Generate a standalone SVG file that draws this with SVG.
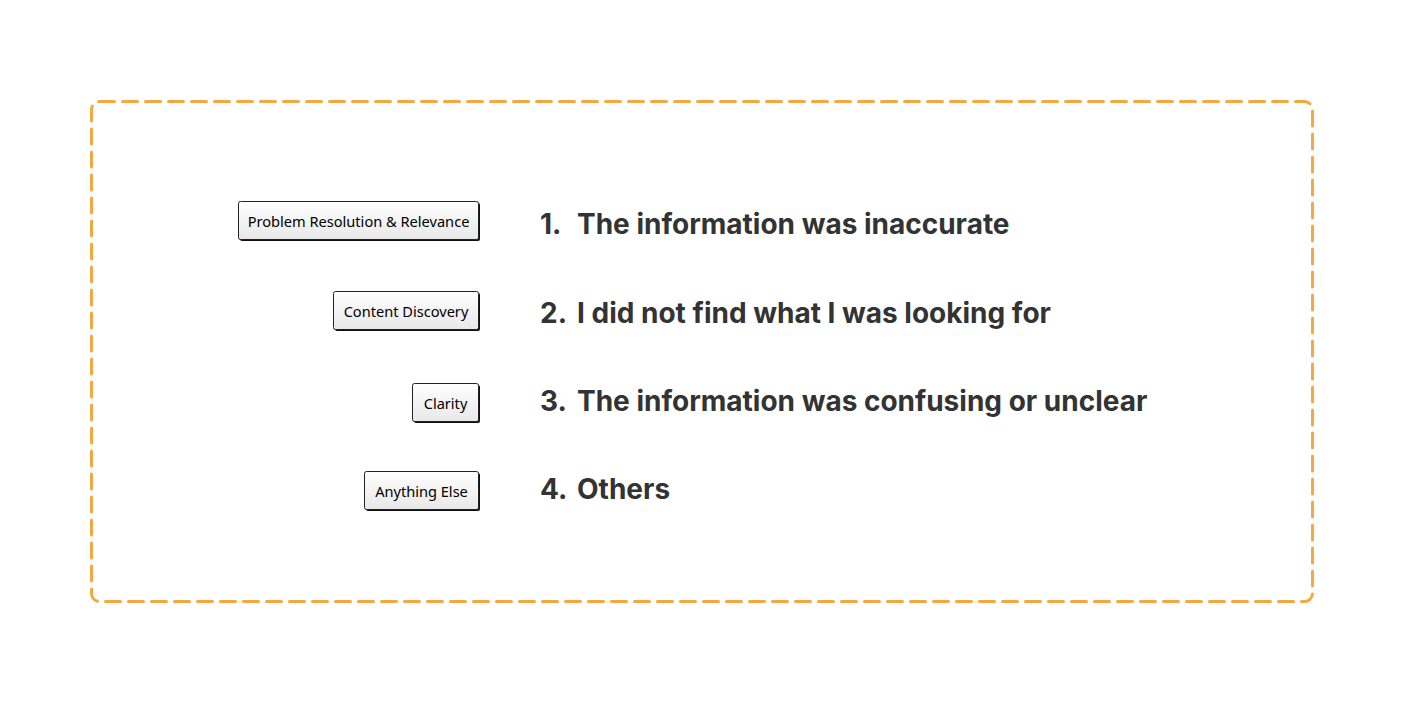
<svg xmlns="http://www.w3.org/2000/svg" width="1408" height="726" viewBox="0 0 1408 726">
<defs>
<linearGradient id="g" x1="0" y1="0" x2="0" y2="1">
<stop offset="0" stop-color="#ffffff"/>
<stop offset="1" stop-color="#e8e8e8"/>
</linearGradient>
</defs>
<style>
.frame{fill:none;stroke:#f5a83f;stroke-width:3;stroke-dasharray:15 8;stroke-linecap:round}
.shadow{fill:#111}
.box{fill:url(#g);stroke:#222;stroke-width:1}
.lbl{font-family:"Noto Sans","DejaVu Sans",sans-serif;font-size:14.6px;fill:#000;text-anchor:middle}
.item{font-family:Inter,"Liberation Sans",sans-serif;font-size:28px;font-weight:700;fill:#333}
</style>
<rect width="1408" height="726" fill="#ffffff"/>
<rect class="frame" x="91.5" y="101.5" width="1221" height="500" rx="8"/>
<g id="connectors"></g>
<g id="n1">
<rect class="shadow" x="240" y="203" width="240" height="38" rx="2"/>
<rect class="box" x="238.5" y="201.5" width="240" height="38" rx="2"/>
<text class="lbl" x="358.5" y="226.5">Problem Resolution &amp; Relevance</text>
</g>
<g id="n2">
<rect class="shadow" x="335" y="293" width="145" height="38" rx="2"/>
<rect class="box" x="333.5" y="291.5" width="145" height="38" rx="2"/>
<text class="lbl" x="406" y="316.5">Content Discovery</text>
</g>
<g id="n3">
<rect class="shadow" x="414" y="385" width="66" height="38" rx="2"/>
<rect class="box" x="412.5" y="383.5" width="66" height="38" rx="2"/>
<text class="lbl" x="445.5" y="408.5">Clarity</text>
</g>
<g id="n4">
<rect class="shadow" x="366" y="473" width="114" height="38" rx="2"/>
<rect class="box" x="364.5" y="471.5" width="114" height="38" rx="2"/>
<text class="lbl" x="421.5" y="496.5">Anything Else</text>
</g>
<g id="items">
<text class="item" x="540" y="234">1.</text><text class="item" x="577" y="234">The information was inaccurate</text>
<text class="item" x="540" y="323">2.</text><text class="item" x="577" y="323">I did not find what I was looking for</text>
<text class="item" x="540" y="411">3.</text><text class="item" x="577" y="411">The information was confusing or unclear</text>
<text class="item" x="540" y="499">4.</text><text class="item" x="577" y="499">Others</text>
</g>
</svg>
